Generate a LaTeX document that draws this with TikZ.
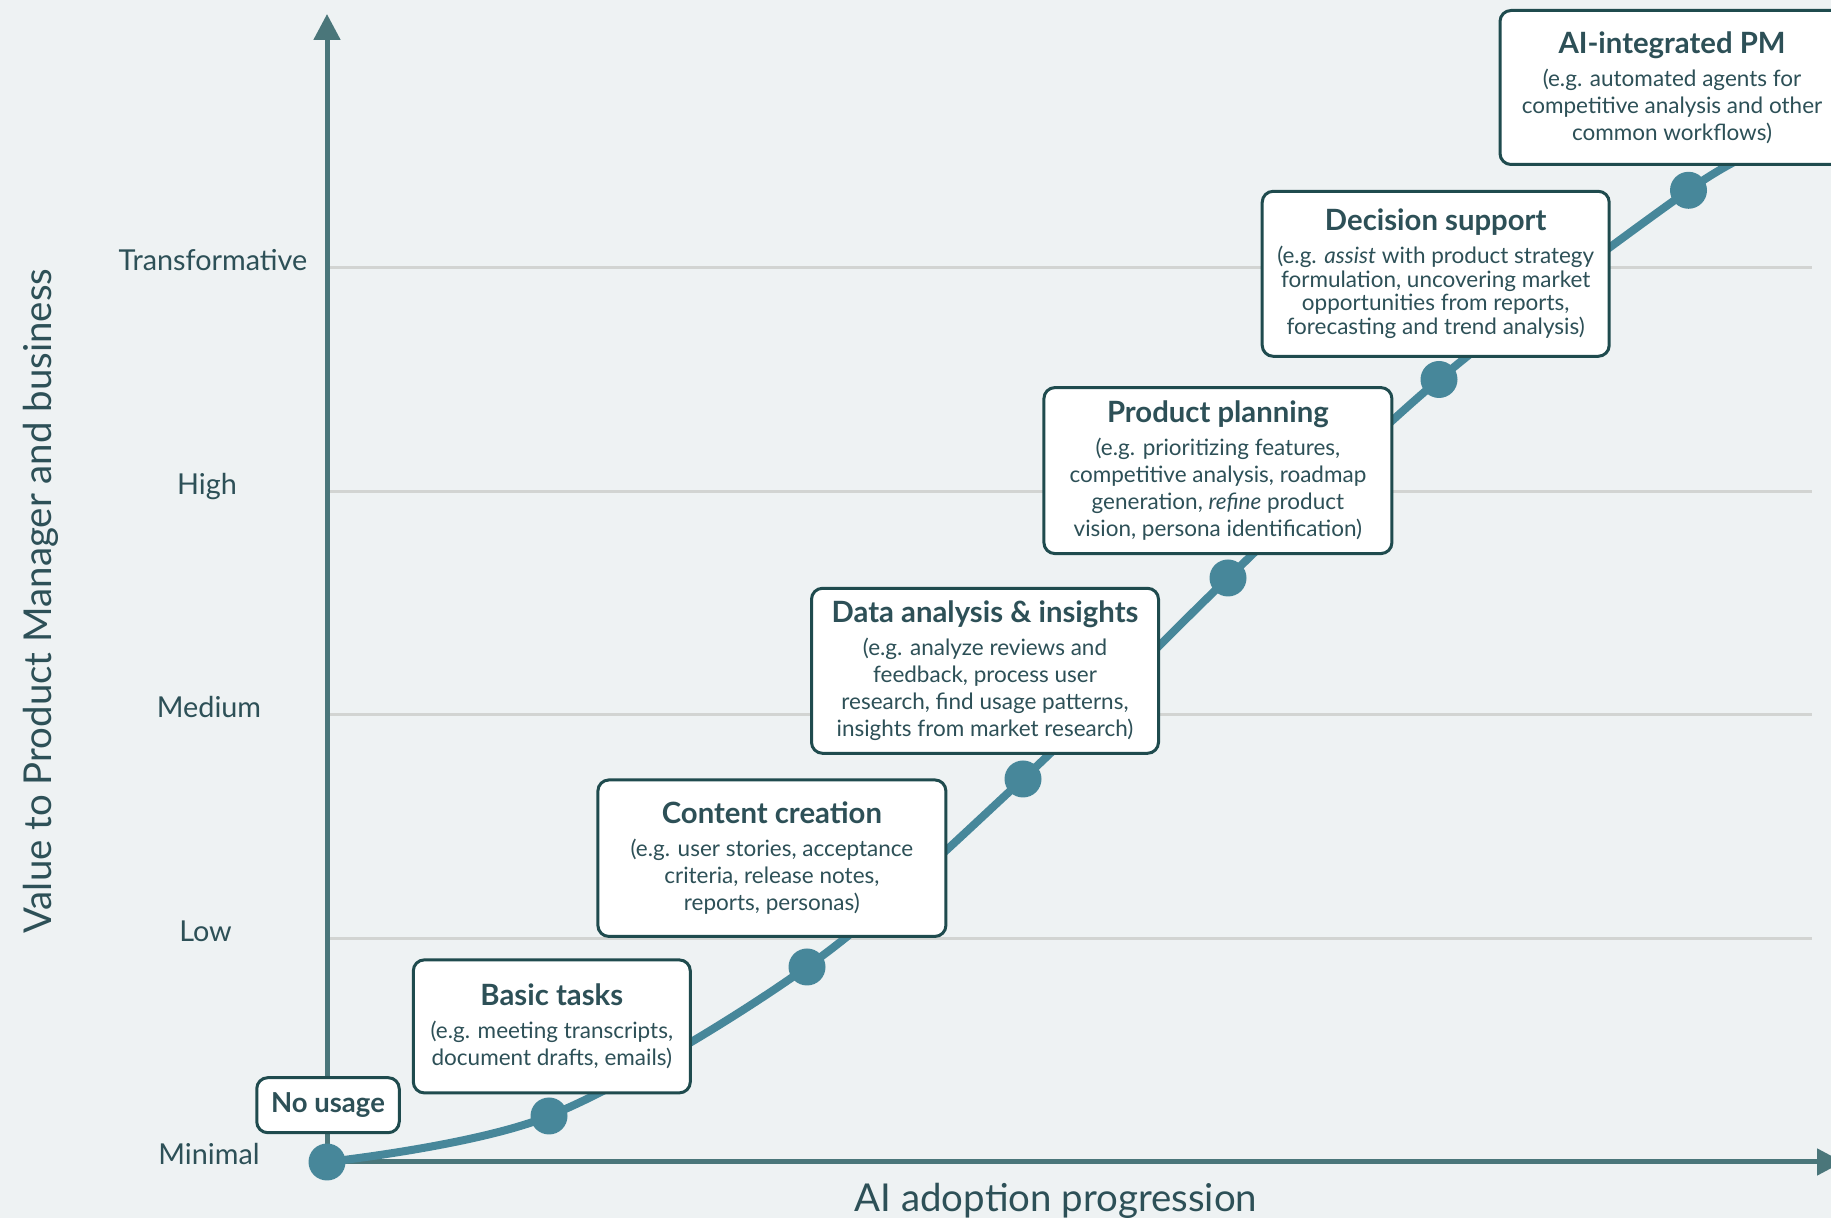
\documentclass[tikz,border=0pt]{standalone}
\usepackage{fontspec}
\setmainfont{Lato}
\usetikzlibrary{arrows.meta}
\definecolor{bgcol}{HTML}{EEF2F3}
\definecolor{axiscol}{HTML}{4A767A}
\definecolor{curvecol}{HTML}{47879A}
\definecolor{boxline}{HTML}{1F4B4E}
\definecolor{txtcol}{HTML}{2D5057}
\definecolor{gridcol}{HTML}{D2D4D2}
\tikzset{
	axisline/.style={line width=5pt, color=axiscol, -{Triangle[length=26pt,width=26pt]}},
	gridline/.style={line width=3pt, color=gridcol},
	curveline/.style={line width=8pt, color=curvecol},
	dot/.style={circle, fill=curvecol, inner sep=0pt, minimum size=37pt},
	stage/.style={draw=boxline, fill=white, line width=3pt, rounded corners=11pt, align=center, text=txtcol, inner sep=0pt, font=\fontsize{22.5}{27}\selectfont},
	level/.style={text=txtcol, anchor=base, font=\fontsize{28.8}{32}\selectfont},
	axistitle/.style={text=txtcol, anchor=base, font=\fontsize{38.4}{44}\selectfont},
}
\newcommand{\stagetitle}[1]{{\fontsize{29.3}{34}\selectfont\bfseries #1}}

\begin{document}
\begin{tikzpicture}[x=1pt, y=1pt]
			%%%%% START %%%%%
			
			\fill[bgcol] (0, 0) rectangle (1831, 1218);
			\useasboundingbox (0, 0) rectangle (1831, 1218);
			
			\draw[gridline] (329, 279.5) -- (1812, 279.5);
			\draw[gridline] (329, 503) -- (1812, 503);
			\draw[gridline] (329, 726.5) -- (1812, 726.5);
			\draw[gridline] (329, 950) -- (1812, 950);
			
			\node[level] (lvlmin) at (209, 53) {Minimal};
			\node[level] (lvllow) at (205.5, 276.5) {Low};
			\node[level] (lvlmed) at (209, 500) {Medium};
			\node[level] (lvlhigh) at (207, 723.5) {High};
			\node[level] (lvltrans) at (213, 947) {Transformative};
			
			\coordinate (origin) at (327, 56);
			\coordinate (ytip) at (327, 1204);
			\coordinate (xtip) at (1843, 56);
			\draw[axisline] (origin) -- (ytip);
			\draw[axisline] (origin) -- (xtip);
			
			\node[axistitle, rotate=90] (ytitle) at (51, 617) {Value to Product Manager and business};
			\node[axistitle] (xtitle) at (1056, 6) {AI adoption progression};
			
			\coordinate (p0) at (327, 56);
			\coordinate (p1) at (549, 102);
			\coordinate (p2) at (807, 251);
			\coordinate (p3) at (1023, 439);
			\coordinate (p4) at (1228, 640);
			\coordinate (p5) at (1439, 838.5);
			\coordinate (p6) at (1688.5, 1027.7);
			\coordinate (pend) at (1765, 1069);
			\draw[curveline] plot[smooth, tension=0.55] coordinates {(p0) (p1) (p2) (p3) (p4) (p5) (p6) (pend)};
			
			\node[dot] (d0) at (p0) {};
			\node[dot] (d1) at (p1) {};
			\node[dot] (d2) at (p2) {};
			\node[dot] (d3) at (p3) {};
			\node[dot] (d4) at (p4) {};
			\node[dot] (d5) at (p5) {};
			\node[dot] (d6) at (p6) {};
			
			\node[stage, minimum width=142.5pt, minimum height=55pt, font=\fontsize{27.5}{32}\selectfont\bfseries] (nousage) at (328, 112.8) {No usage};
			
			\node[stage, minimum width=277pt, minimum height=133pt] (basic) at (551.8, 191.6)
				{\stagetitle{Basic tasks}\\[6pt] (e.g. meeting transcripts,\\ document drafts, emails)};
			
			\node[stage, minimum width=348pt, minimum height=156.5pt] (content) at (771.9, 359.8)
				{\stagetitle{Content creation}\\[6pt] (e.g. user stories, acceptance\\ criteria, release notes,\\ reports, personas)};
			
			\node[stage, minimum width=347pt, minimum height=165pt] (data) at (985, 547.2)
				{\stagetitle{Data analysis \& insights}\\[6pt] (e.g. analyze reviews and\\ feedback, process user\\ research, find usage patterns,\\ insights from market research)};
			
			\node[stage, minimum width=348pt, minimum height=166pt] (planning) at (1217.9, 747.4)
				{\stagetitle{Product planning}\\[6pt] (e.g. prioritizing features,\\ competitive analysis, roadmap\\ generation, \textit{refine} product\\ vision, persona identification)};
			
			\node[stage, minimum width=347pt, minimum height=165pt, font=\fontsize{22.5}{23.7}\selectfont] (decision) at (1435.7, 944.2)
				{\stagetitle{Decision support}\\[9pt] (e.g. \textit{assist} with product strategy\\ formulation, uncovering market\\ opportunities from reports,\\ forecasting and trend analysis)};
			
			\node[stage, minimum width=344pt, minimum height=154pt] (aipm) at (1672, 1130.5)
				{\stagetitle{AI-integrated PM}\\[6pt] (e.g. automated agents for\\ competitive analysis and other\\ common workflows)};
			
			%%%%% END %%%%%
\end{tikzpicture}
\end{document}
